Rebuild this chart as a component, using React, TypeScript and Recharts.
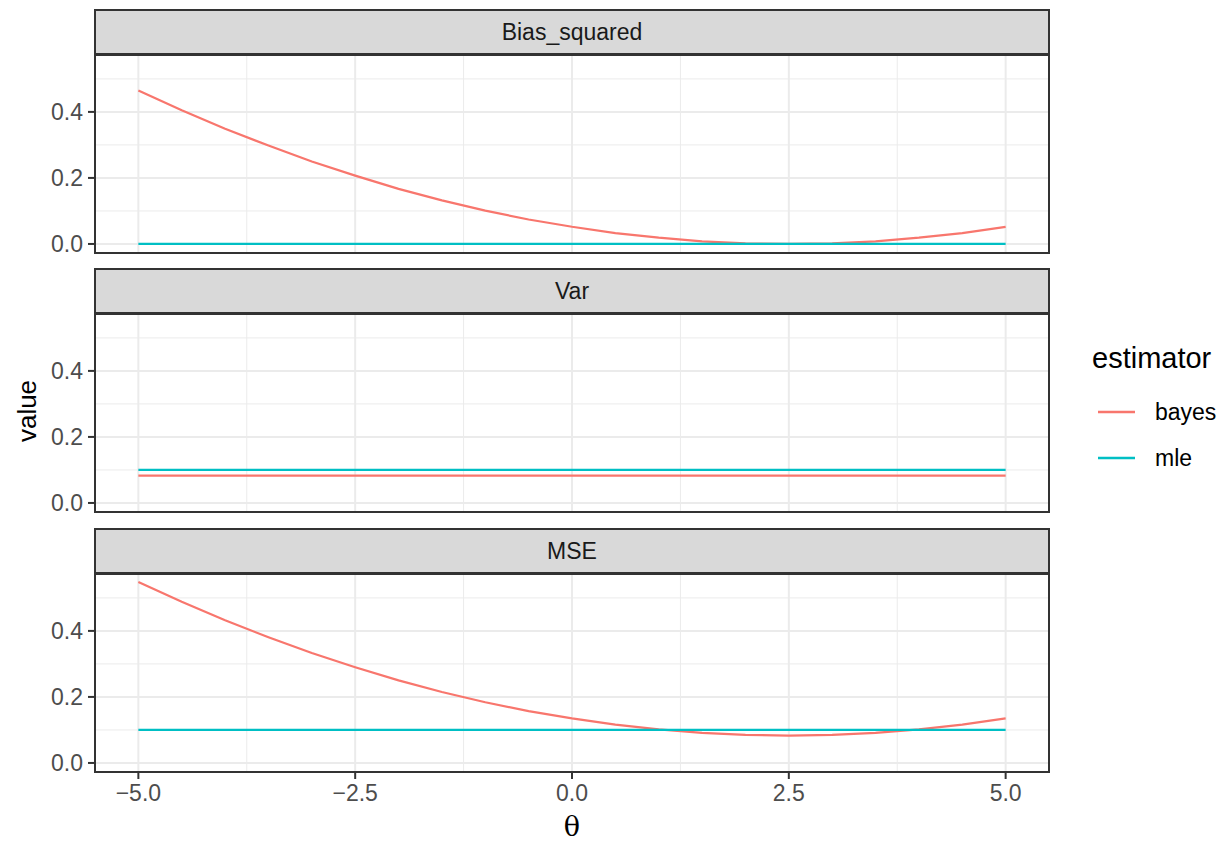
import { LineChart, Line, XAxis, YAxis, ReferenceLine } from 'recharts';

const theta = [-5, -4.5, -4, -3.5, -3, -2.5, -2, -1.5, -1, -0.5, 0, 0.5, 1, 1.5, 2, 2.5, 3, 3.5, 4, 4.5, 5];
const biasBayes = [0.465, 0.405, 0.349, 0.298, 0.250, 0.207, 0.167, 0.132, 0.101, 0.074, 0.052, 0.033, 0.019, 0.008, 0.002, 0.000, 0.002, 0.008, 0.019, 0.033, 0.052];
const biasMle = [0, 0, 0, 0, 0, 0, 0, 0, 0, 0, 0, 0, 0, 0, 0, 0, 0, 0, 0, 0, 0];
const varBayes = [0.083, 0.083, 0.083, 0.083, 0.083, 0.083, 0.083, 0.083, 0.083, 0.083, 0.083, 0.083, 0.083, 0.083, 0.083, 0.083, 0.083, 0.083, 0.083, 0.083, 0.083];
const varMle = [0.1, 0.1, 0.1, 0.1, 0.1, 0.1, 0.1, 0.1, 0.1, 0.1, 0.1, 0.1, 0.1, 0.1, 0.1, 0.1, 0.1, 0.1, 0.1, 0.1, 0.1];
const mseBayes = [0.548, 0.488, 0.432, 0.381, 0.333, 0.290, 0.250, 0.215, 0.184, 0.157, 0.135, 0.116, 0.102, 0.091, 0.085, 0.083, 0.085, 0.091, 0.102, 0.116, 0.135];
const mseMle = [0.1, 0.1, 0.1, 0.1, 0.1, 0.1, 0.1, 0.1, 0.1, 0.1, 0.1, 0.1, 0.1, 0.1, 0.1, 0.1, 0.1, 0.1, 0.1, 0.1, 0.1];

const panelNames = ['Bias_squared', 'Var', 'MSE'];
const estimators = ['bayes', 'mle'];
const colors = ['#F8766D', '#00BFC4'];
const xTicks = [-5, -2.5, 0, 2.5, 5];
const xMinor = [-3.75, -1.25, 1.25, 3.75];
const yTicks = [0, 0.2, 0.4];
const yMinor = [0.1, 0.3, 0.5];

const FONT = '"Liberation Sans", Arial, sans-serif';
const fmt = (v: number) => v.toFixed(1).replace('-', '\u2212');

const panels = [
  { bayes: biasBayes, mle: biasMle, top: 9 },
  { bayes: varBayes, mle: varMle, top: 268 },
  { bayes: mseBayes, mle: mseMle, top: 528 },
];

function Panel({ idx }: { idx: number }) {
  const p = panels[idx];
  const data = theta.map((t, i) => ({ theta: t, bayes: p.bayes[i], mle: p.mle[i] }));
  const last = idx === panels.length - 1;
  const plotTop = p.top + 45;
  const plotH = 199;
  return (
    <>
      <div style={{ position: 'absolute', left: 94, top: p.top, width: 956, height: 46, boxSizing: 'border-box', border: '2px solid #333', background: '#D9D9D9', color: '#1A1A1A', fontSize: 23, fontFamily: FONT, display: 'flex', alignItems: 'center', justifyContent: 'center' }}>
        {panelNames[idx]}
      </div>
      <div style={{ position: 'absolute', left: 0, top: plotTop }}>
        <LineChart width={1049} height={plotH + (last ? 45 : 15)} data={data} margin={{ top: 0, right: 0, bottom: last ? 0 : 15, left: 0 }}>
          <XAxis dataKey="theta" type="number" domain={[-5.5, 5.5]} ticks={xTicks} interval={0} allowDataOverflow hide={!last} height={45}
            tickFormatter={fmt} axisLine={false} tickSize={7} tickMargin={6}
            tickLine={{ stroke: '#333', strokeWidth: 2 }} tick={{ fill: '#4D4D4D', fontSize: 23, fontFamily: FONT }} />
          <YAxis type="number" domain={[-0.0274, 0.5754]} ticks={yTicks} interval={0} allowDataOverflow width={95}
            tickFormatter={fmt} axisLine={false} tickSize={7} tickMargin={5}
            tickLine={{ stroke: '#333', strokeWidth: 2 }} tick={{ fill: '#4D4D4D', fontSize: 23, fontFamily: FONT }} />
          {yMinor.map(v => <ReferenceLine key={'ym' + v} y={v} stroke="#EBEBEB" strokeWidth={1} />)}
          {xMinor.map(v => <ReferenceLine key={'xm' + v} x={v} stroke="#EBEBEB" strokeWidth={1} />)}
          {yTicks.map(v => <ReferenceLine key={'y' + v} y={v} stroke="#EBEBEB" strokeWidth={2} />)}
          {xTicks.map(v => <ReferenceLine key={'x' + v} x={v} stroke="#EBEBEB" strokeWidth={2} />)}
          {estimators.map((e, i) => (
            <Line key={e} dataKey={e} type="linear" stroke={colors[i]} strokeWidth={2.2} dot={false} isAnimationActive={false} />
          ))}
        </LineChart>
      </div>
      <div style={{ position: 'absolute', left: 94, top: plotTop, width: 956, height: plotH + 1, boxSizing: 'border-box', border: '2px solid #333', pointerEvents: 'none' }} />
    </>
  );
}

export default function App() {
  return (
    <div style={{ position: 'absolute', left: 0, top: 0, width: 1225, height: 841, background: '#fff', fontFamily: FONT }}>
      {panels.map((_, i) => <Panel key={i} idx={i} />)}
      <div style={{ position: 'absolute', left: 27, top: 411, transform: 'translate(-50%, -50%) rotate(-90deg)', fontSize: 26, color: '#000', whiteSpace: 'nowrap' }}>value</div>
      <div style={{ position: 'absolute', left: 572, top: 826, transform: 'translate(-50%, -50%)', fontSize: 27, fontFamily: '"DejaVu Serif", serif', color: '#000' }}>θ</div>
      <div style={{ position: 'absolute', left: 1092, top: 342, fontSize: 29, color: '#000' }}>estimator</div>
      {estimators.map((e, i) => (
        <div key={e} style={{ position: 'absolute', left: 1096, top: 400 + i * 46, height: 24, display: 'flex', alignItems: 'center' }}>
          <svg width={42} height={24}><line x1={2} x2={39} y1={12} y2={12} stroke={colors[i]} strokeWidth={2.5} /></svg>
          <span style={{ marginLeft: 17, fontSize: 23, color: '#000' }}>{e}</span>
        </div>
      ))}
    </div>
  );
}
